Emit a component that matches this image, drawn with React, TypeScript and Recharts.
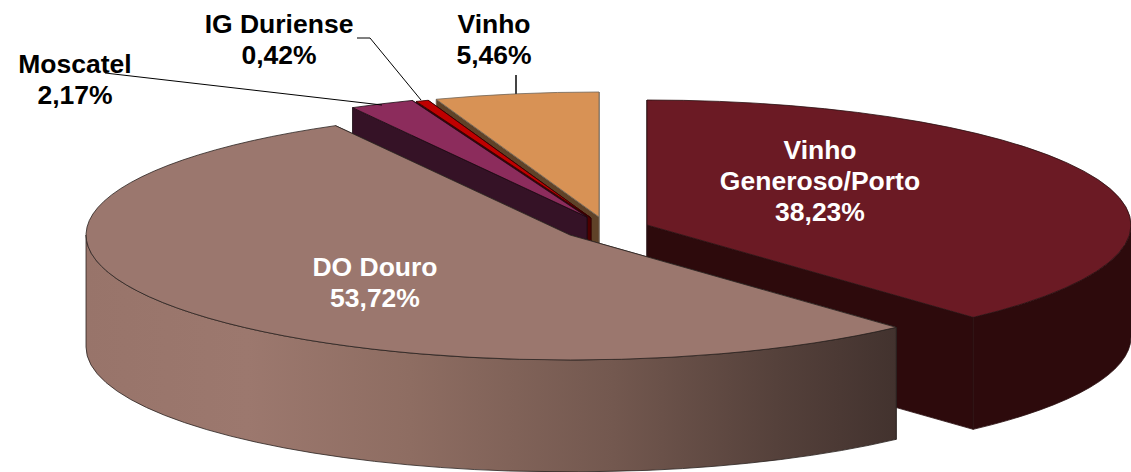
import React from "react";
import { PieChart, Pie } from "recharts";

// Paint order runs counter-clockwise from the end of the first slice.
const categories = [["Vinho", "Generoso/Porto"], ["Vinho"], ["IG Duriense"], ["Moscatel"], ["DO Douro"]];
const shares = [38.23, 5.46, 0.42, 2.17, 53.72];

const topColors = ["#6b1a24", "#d89255", "#c00000", "#8c2c5c", "#9b776e"];
const sideColors = ["#2d0a0c", "#5f4228", "#4d0000", "#351226", "url(#douroSide)"];
const strokeColors = ["#2a1012", "#6e6458", "#300000", "#1a0a12", "#2a2220"];
const labelColors = ["#ffffff", "#000000", "#000000", "#000000", "#ffffff"];

const BASE_X = 600;
const BASE_Y = 225;
const RADIUS_X = 484;
const RADIUS_Y = 125;
const DEPTH = 112;
const sliceShiftX = [47, -1, -9, -13, -30];
const sliceShiftY = [0, -8, -7, -8, 10];

const labelCenterX = [820, 494, 279, 75, 375];
const labelFirstLine = [159, 33, 33, 73, 276];
const LINE_GAP = 31;
const leaders = [
  null,
  { points: "516,75 516,94", stroke: "#444444", width: 2 },
  { points: "357,38 370,38 421,100", stroke: "#000000", width: 1 },
  { points: "105,73 382,105", stroke: "#000000", width: 1 },
  null,
];

const douroStops = [
  { at: "0%", color: "#98746a" },
  { at: "20%", color: "#9c786e" },
  { at: "40%", color: "#8e6d62" },
  { at: "65%", color: "#73584f" },
  { at: "85%", color: "#55413b" },
  { at: "100%", color: "#42322e" },
];

const tableData = categories.map((lines, i) => ({ name: lines.join(" "), value: shares[i], lines }));
const FIRST_START = 90 - (360 * shares[0]) / 100;

const rad = (a: number) => (a * Math.PI) / 180;

function SliceShape(props: any) {
  const i: number = props.index ?? tableData.findIndex((d) => d.name === props.name && d.value === props.value);
  const cx = props.cx + sliceShiftX[i];
  const cy = props.cy + sliceShiftY[i];
  const a0 = Math.min(props.startAngle, props.endAngle);
  const a1 = Math.max(props.startAngle, props.endAngle);
  const rx = props.outerRadius;
  const ry = (rx * RADIUS_Y) / RADIUS_X;
  const pt = (a: number, d = 0) => [cx + rx * Math.cos(rad(a)), cy - ry * Math.sin(rad(a)) + d];
  const str = (p: number[]) => `${p[0].toFixed(2)} ${p[1].toFixed(2)}`;
  const arc = (from: number, to: number, d: number, sweep: number) =>
    `A ${rx} ${ry} 0 ${Math.abs(to - from) > 180 ? 1 : 0} ${sweep} ${str(pt(to, d))}`;

  const wall = (a: number) =>
    `M ${cx} ${cy} L ${str(pt(a))} L ${str(pt(a, DEPTH))} L ${cx} ${cy + DEPTH} Z`;

  const rims: string[] = [];
  for (const k of [-360, 0, 360]) {
    const from = Math.max(a0, 180 + k);
    const to = Math.min(a1, 360 + k);
    if (to > from) {
      rims.push(`M ${str(pt(from))} ${arc(from, to, 0, 0)} L ${str(pt(to, DEPTH))} ${arc(to, from, DEPTH, 1)} Z`);
    }
  }
  const top = `M ${cx} ${cy} L ${str(pt(a0))} ${arc(a0, a1, 0, 0)} Z`;
  const side = sideColors[i];
  const stroke = strokeColors[i];
  return (
    <g>
      <defs>
        <linearGradient id="douroSide" gradientUnits="userSpaceOnUse" x1="85" x2="898" y1="0" y2="0">
          {douroStops.map((s) => (
            <stop key={s.at} offset={s.at} stopColor={s.color} />
          ))}
        </linearGradient>
      </defs>
      <path d={wall(a0)} fill={side} stroke={stroke} strokeWidth={0.8} />
      <path d={wall(a1)} fill={side} stroke={stroke} strokeWidth={0.8} />
      {rims.map((d) => (
        <path key={d} d={d} fill={side} stroke={stroke} strokeWidth={0.8} />
      ))}
      <path d={top} fill={topColors[i]} stroke={stroke} strokeWidth={0.8} />
    </g>
  );
}

function SliceLabel(props: any) {
  const i: number = props.index;
  const row = tableData[i];
  const leader = leaders[i];
  const lines = [...row.lines, `${row.value.toFixed(2).replace(".", ",")}%`];
  return (
    <g>
      {leader && <polyline points={leader.points} fill="none" stroke={leader.stroke} strokeWidth={leader.width} />}
      <text
        textAnchor="middle"
        fontFamily="'Liberation Sans', Arial, sans-serif"
        fontWeight="bold"
        fontSize={26.5}
        fill={labelColors[i]}
      >
        {lines.map((t, n) => (
          <tspan key={n} x={labelCenterX[i]} y={labelFirstLine[i] + n * LINE_GAP}>
            {t}
          </tspan>
        ))}
      </text>
    </g>
  );
}

export default function App() {
  return (
    <div style={{ width: 1131, height: 472 }}>
      <style>{"html,body{margin:0;padding:0}#root{width:1131px;height:472px;overflow:visible}"}</style>
      <PieChart width={1131} height={472} margin={{ top: 0, right: 0, bottom: 0, left: 0 }}>
        <Pie
          data={tableData}
          dataKey="value"
          nameKey="name"
          cx={BASE_X}
          cy={BASE_Y}
          innerRadius={0}
          outerRadius={RADIUS_X}
          startAngle={FIRST_START}
          endAngle={FIRST_START + 360}
          shape={SliceShape}
          label={SliceLabel}
          labelLine={false}
          stroke="none"
          isAnimationActive={false}
        />
      </PieChart>
    </div>
  );
}
